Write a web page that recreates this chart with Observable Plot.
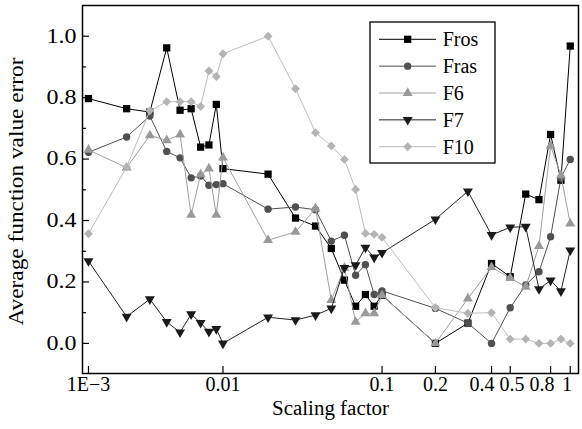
<!DOCTYPE html>
<html><head><meta charset="utf-8">
<script src="https://cdn.jsdelivr.net/npm/d3@7"></script>
<script src="https://cdn.jsdelivr.net/npm/@observablehq/plot@0.6"></script>
<style>
body{margin:0;background:#fff;}
#chart{position:relative;width:582px;height:429px;}
#chart svg{display:block;}
</style></head><body><div id="chart"></div>
<script>
// ---- data ----
const scalingFactor = [0.001,0.002,0.003,0.004,0.005,0.006,0.007,0.008,0.009,0.01,
  0.02,0.03,0.04,0.05,0.06,0.07,0.08,0.09,0.1,0.2,0.3,0.4,0.5,0.6,0.7,0.8,0.9,1];
const fros = [0.797,0.764,0.753,0.962,0.759,0.764,0.639,0.646,0.778,0.569,
  0.551,0.408,0.382,0.309,0.206,0.121,0.159,0.121,0.157,0.000,0.066,0.260,0.217,0.486,0.468,0.680,0.531,0.968];
const fras = [0.622,0.672,0.740,0.625,0.604,0.539,0.545,0.515,0.517,0.520,
  0.437,0.444,0.435,0.333,0.352,0.222,0.256,0.159,0.171,0.114,0.066,0.000,0.116,0.190,0.233,0.347,0.539,0.599];
const f6 = [0.630,0.572,0.677,0.661,0.680,0.418,0.550,0.569,0.418,0.605,
  0.336,0.363,0.439,0.141,0.246,0.070,0.098,0.098,0.157,0.000,0.146,0.248,0.213,0.184,0.317,0.643,0.547,0.390];
const f7 = [0.268,0.087,0.144,0.070,0.036,0.095,0.067,0.038,0.047,0.000,
  0.085,0.076,0.092,0.114,0.246,0.255,0.312,0.280,0.295,0.404,0.495,0.353,0.378,0.380,0.177,0.205,0.170,0.303];
const f10 = [0.357,0.574,0.757,0.787,0.787,0.787,0.771,0.887,0.869,0.943,
  1.000,0.829,0.686,0.643,0.599,0.501,0.358,0.355,0.345,0.116,0.098,0.100,0.014,0.014,0.000,0.000,0.014,0.000];
const seriesNames = ["Fros","Fras","F6","F7","F10"];
const seriesValues = [fros, fras, f6, f7, f10];
const xTickValues = [0.001,0.01,0.1,0.2,0.4,0.5,0.8,1];
const xTickLabels = ["1E\u22123","0.01","0.1","0.2","0.4","0.5","0.8","1"];
const yTickValues = [0,0.2,0.4,0.6,0.8,1.0];
const yMinorTicks = [0.1,0.3,0.5,0.7,0.9];
const xLabel = "Scaling factor";
const yLabel = "Average function value error";

// ---- styles / layout ----
const styles = {
  Fros: {symbol:"square",   d3sym:d3.symbolSquare,   fill:"#000000", line:"#000000", r:4.1, rotate:0},
  Fras: {symbol:"circle",   d3sym:d3.symbolCircle,   fill:"#505050", line:"#505050", r:3.7, rotate:0},
  F6:   {symbol:"triangle", d3sym:d3.symbolTriangle, fill:"#999999", line:"#a0a0a0", r:3.7, rotate:0},
  F7:   {symbol:"triangle", d3sym:d3.symbolTriangle, fill:"#1a1a1a", line:"#222222", r:3.7, rotate:180},
  F10:  {symbol:"diamond2", d3sym:d3.symbolDiamond2, fill:"#b4b4b4", line:"#bdbdbd", r:4.0, rotate:0}
};
const xLabelNudge = [0, 0, 0, 0, -9.5, 1.8, -8.5, -3.2]; // label shifts (px) to avoid crowding
const FONT = "'Liberation Serif','Times New Roman',serif";

const W = 582, H = 429, mL = 82, mR = 4, mT = 5, mB = 56;
const plotW = W - mL - mR, plotH = H - mT - mB;

const rows = seriesNames.map((name, k) =>
  scalingFactor.map((x, i) => ({series: name, x, y: seriesValues[k][i]})));

const seriesMarks = [];
rows.forEach((data, k) => {
  const s = styles[seriesNames[k]];
  seriesMarks.push(Plot.line(data, {x: "x", y: "y", stroke: s.line, strokeWidth: 1}));
  seriesMarks.push(Plot.dot(data, {x: "x", y: "y", symbol: s.symbol, fill: s.fill, stroke: "none", r: s.r, rotate: s.rotate}));
});

const xLabelMarks = xTickValues.map((v, i) =>
  Plot.text([v], {x: d => d, frameAnchor: "bottom", dy: 3.5, dx: xLabelNudge[i],
    lineAnchor: "top", text: d => xTickLabels[xTickValues.indexOf(d)], fontSize: 20}));

const chart = Plot.plot({
  width: W, height: H,
  marginLeft: mL, marginRight: mR, marginTop: mT, marginBottom: mB,
  style: {fontFamily: FONT, fontSize: "20px", background: "#fff", color: "#000", overflow: "visible"},
  x: {type: "pow", exponent: 0.073, domain: [0.000894, 1.097], axis: null},
  y: {domain: [-0.098, 1.1], axis: null},
  marks: [
    ...xLabelMarks,
    Plot.axisY(yTickValues, {tickSize: 0, tickPadding: 6, tickFormat: d => d.toFixed(1), label: null, fontSize: 20}),
    Plot.ruleX(xTickValues, {x: d => d, insetTop: plotH - 7, stroke: "#000", strokeWidth: 1.2}),
    Plot.ruleY(yTickValues, {y: d => d, insetRight: plotW - 7, stroke: "#000", strokeWidth: 1.2}),
    Plot.ruleY(yMinorTicks, {y: d => d, insetRight: plotW - 4, stroke: "#000", strokeWidth: 1.2}),
    ...seriesMarks,
    Plot.frame({stroke: "#000", strokeWidth: 1.5}),
    Plot.text([xLabel], {frameAnchor: "bottom", dy: 35, lineAnchor: "middle", fontSize: 20}),
    Plot.text([yLabel], {frameAnchor: "left", dx: -66.4, dy: 2, rotate: -90, lineAnchor: "middle", textAnchor: "middle", fontSize: 20})
  ]
});
document.getElementById("chart").appendChild(chart);

// widen some texts to the reference's (horizontally stretched) glyph widths
d3.select(chart).selectAll("text").each(function () {
  const t = this.textContent;
  const sel = d3.select(this);
  const inYAxis = !!this.closest('g[aria-label^="y-axis"]');
  if (t === yLabel) sel.attr("textLength", 268).attr("lengthAdjust", "spacingAndGlyphs");
  else if (t === xLabel) sel.attr("textLength", 117).attr("lengthAdjust", "spacingAndGlyphs");
  else if (inYAxis) sel.attr("textLength", 30).attr("lengthAdjust", "spacingAndGlyphs");
});

// ---- legend (inside plot area, top right) ----
const leg = d3.select("#chart").append("svg")
  .attr("width", W).attr("height", H)
  .style("position", "absolute").style("left", "0px").style("top", "0px");
leg.append("rect").attr("x", 370).attr("y", 22).attr("width", 125).attr("height", 141)
  .attr("fill", "#fff").attr("stroke", "#000").attr("stroke-width", 1.3);
seriesNames.forEach((name, i) => {
  const s = styles[name];
  const cy = 39.3 + i * 26.85;
  leg.append("line").attr("x1", 379).attr("x2", 436).attr("y1", cy).attr("y2", cy)
    .attr("stroke", s.line).attr("stroke-width", 1);
  leg.append("path").attr("d", d3.symbol(s.d3sym, Math.PI * s.r * s.r)())
    .attr("transform", `translate(407.7,${cy}) rotate(${s.rotate})`).attr("fill", s.fill);
  leg.append("text").attr("x", 442.7).attr("y", cy + 6.8).text(name)
    .attr("font-family", FONT).attr("font-size", 20).attr("fill", "#000");
});
</script></body></html>
